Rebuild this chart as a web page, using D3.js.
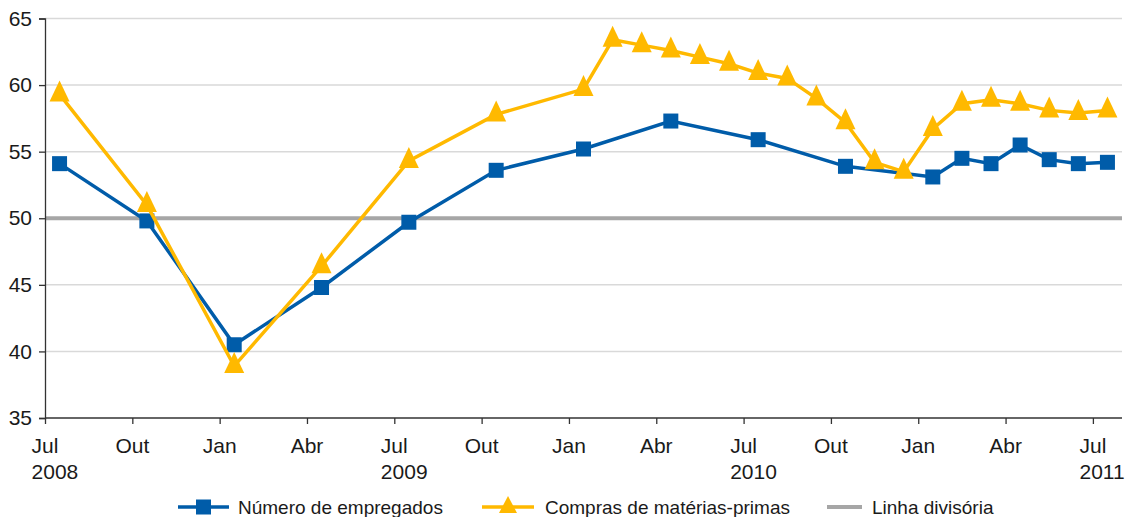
<!DOCTYPE html>
<html><head><meta charset="utf-8">
<script src="https://cdn.jsdelivr.net/npm/d3@7"></script>
<style>
html,body{margin:0;padding:0;background:#fff;}
svg{display:block;font-family:"Liberation Sans",Arial,sans-serif;}
</style></head>
<body>
<svg id="c" width="1126" height="517"></svg>
<script>
// month index 0 = Jul 2008 ... 36 = Jul 2011
const empMonths = [0,3,6,9,12,15,18,21,24,27,30,31,32,33,34,35,36];
const empValues = [54.1,49.8,40.5,44.8,49.7,53.6,55.2,57.3,55.9,53.9,53.1,54.5,54.1,55.5,54.4,54.1,54.2];
const compMonths = [0,3,6,9,12,15,18,19,20,21,22,23,24,25,26,27,28,29,30,31,32,33,34,35,36];
const compValues = [59.3,51.0,38.9,46.4,54.3,57.8,59.7,63.4,63.0,62.6,62.1,61.6,60.9,60.5,59.0,57.2,54.2,53.5,56.7,58.6,58.9,58.6,58.1,57.9,58.1];
const divisionValue = 50;
const tickMonths = [0,3,6,9,12,15,18,21,24,27,30,33,36];
const tickLabels = ["Jul","Out","Jan","Abr","Jul","Out","Jan","Abr","Jul","Out","Jan","Abr","Jul"];
const yearLabels = ["2008","","","","2009","","","","2010","","","","2011"];
const yTicks = [35,40,45,50,55,60,65];
const seriesNames = ["Número de empregados","Compras de matérias-primas","Linha divisória"];
const colors = {emp:"#005ca9", comp:"#ffb900", div:"#a6a6a6"};

const svg = d3.select("#c");
const x = d3.scaleLinear().domain([0,37]).range([45,1122]);
const y = d3.scaleLinear().domain([35,65]).range([418,18.5]);

// gridlines
svg.append("g").selectAll("line").data(yTicks.filter(v=>v!==35 && v!==divisionValue)).join("line")
  .attr("x1",45).attr("x2",1122).attr("y1",d=>y(d)).attr("y2",d=>y(d))
  .attr("stroke","#d9d9d9").attr("stroke-width",1.5);

// division line
svg.append("line").attr("x1",45).attr("x2",1122).attr("y1",y(divisionValue)).attr("y2",y(divisionValue))
  .attr("stroke",colors.div).attr("stroke-width",4);

// y axis
const yAxis = svg.append("g").attr("transform","translate(45,0)")
  .call(d3.axisLeft(y).tickValues(yTicks).tickSize(6).tickPadding(7));
yAxis.select(".domain").attr("stroke","#333").attr("stroke-width",1.3);
yAxis.selectAll(".tick line").attr("stroke","#333").attr("stroke-width",1.3);
yAxis.selectAll("text").attr("font-size",21).attr("fill","#1a1a1a").attr("font-family","Liberation Sans, Arial, sans-serif");

// x axis
const xAxis = svg.append("g").attr("transform","translate(0,418)")
  .call(d3.axisBottom(x).tickValues(tickMonths).tickSize(6).tickFormat(""));
xAxis.select(".domain").attr("stroke","#333").attr("stroke-width",1.3).attr("d","M45,0H1122");
xAxis.selectAll(".tick line").attr("stroke","#333").attr("stroke-width",1.3);
const lbl = svg.append("g").attr("font-size",21).attr("fill","#1a1a1a");
tickMonths.forEach((m,i)=>{
  const t = lbl.append("text").attr("x",x(m)).attr("y",453).attr("text-anchor","middle").text(tickLabels[i]);
  if (yearLabels[i]) {
    const w = t.node().getComputedTextLength();
    lbl.append("text").attr("x",x(m)-w/2).attr("y",479).text(yearLabels[i]);
  }
});

const cx = m => x(m+0.5);
const line = d3.line().x(d=>cx(d[0])).y(d=>y(d[1]));
const empData = empMonths.map((m,i)=>[m,empValues[i]]);
const compData = compMonths.map((m,i)=>[m,compValues[i]]);

const sq = 15;
const triPath = "M0,-14L10,7L-10,7Z";

svg.append("path").datum(empData).attr("d",line).attr("fill","none").attr("stroke",colors.emp).attr("stroke-width",3.5);
svg.append("g").selectAll("rect").data(empData).join("rect")
  .attr("x",d=>cx(d[0])-sq/2).attr("y",d=>y(d[1])-sq/2).attr("width",sq).attr("height",sq).attr("fill",colors.emp);

svg.append("path").datum(compData).attr("d",line).attr("fill","none").attr("stroke",colors.comp).attr("stroke-width",3.5);
svg.append("g").selectAll("path").data(compData).join("path")
  .attr("transform",d=>`translate(${cx(d[0])},${y(d[1])})`).attr("d",triPath).attr("fill",colors.comp);

// legend
const lg = svg.append("g").attr("font-size",19).attr("fill","#1a1a1a");
const ly = 507;
lg.append("line").attr("x1",178).attr("x2",229).attr("y1",ly).attr("y2",ly).attr("stroke",colors.emp).attr("stroke-width",3.5);
lg.append("rect").attr("x",203.5-sq/2).attr("y",ly-sq/2).attr("width",sq).attr("height",sq).attr("fill",colors.emp);
lg.append("text").attr("x",238).attr("y",ly+7).text(seriesNames[0]);
lg.append("line").attr("x1",482).attr("x2",534).attr("y1",ly).attr("y2",ly).attr("stroke",colors.comp).attr("stroke-width",3.5);
lg.append("path").attr("transform",`translate(508,${ly-1})`).attr("d","M0,-10L9,7L-9,7Z").attr("fill",colors.comp);
lg.append("text").attr("x",545).attr("y",ly+7).text(seriesNames[1]);
lg.append("line").attr("x1",827).attr("x2",862).attr("y1",ly).attr("y2",ly).attr("stroke",colors.div).attr("stroke-width",4);
lg.append("text").attr("x",872).attr("y",ly+7).text(seriesNames[2]);
</script>
</body></html>
